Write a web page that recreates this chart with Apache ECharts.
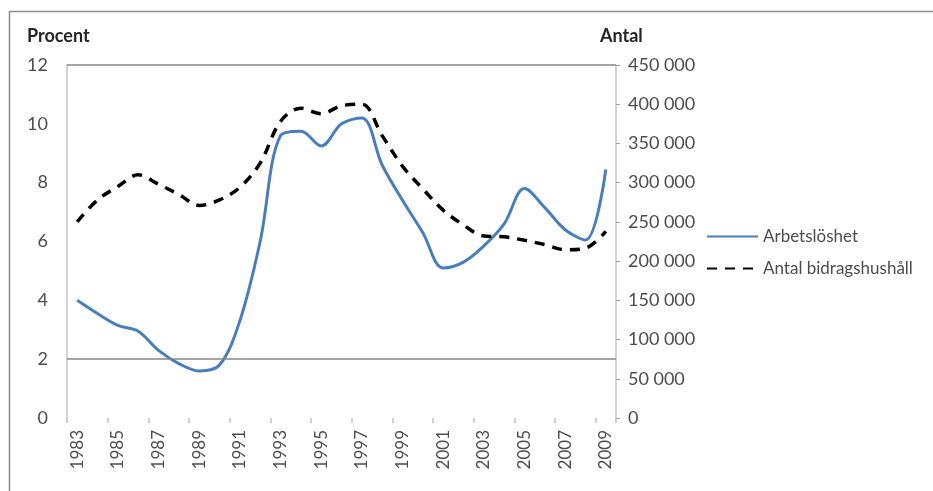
<!DOCTYPE html>
<html>
<head>
<meta charset="utf-8">
<script src="https://cdn.jsdelivr.net/npm/echarts@6/dist/echarts.min.js"></script>
<style>
  html, body { margin: 0; padding: 0; background: #fff; }
  #chart { width: 933px; height: 491px; }
</style>
</head>
<body>
<div id="chart"></div>
<script>
// år 1983-2009
var years = ["1983", "1984", "1985", "1986", "1987", "1988", "1989", "1990", "1991", "1992",
  "1993", "1994", "1995", "1996", "1997", "1998", "1999", "2000", "2001", "2002",
  "2003", "2004", "2005", "2006", "2007", "2008", "2009"];

// Arbetslöshet, procent (vänster axel)
var arbetsloshet = [4.0, 3.55, 3.15, 2.95, 2.3, 1.85, 1.6, 1.8, 3.3, 6.0,
  9.6, 9.75, 9.25, 10.0, 10.2, 8.6, 7.4, 6.3, 5.1, 5.3,
  5.85, 6.6, 7.8, 7.15, 6.4, 6.05, 8.45];

// Antal bidragshushåll (höger axel)
var bidragshushall = [250000, 278000, 295000, 310000, 298000, 285000, 271000, 278000, 294000, 325000,
  378000, 395000, 388000, 398000, 400000, 360000, 321000, 292000, 265000, 246000,
  232000, 231000, 226500, 221000, 214500, 216500, 238000];

// horisontella linjer i diagrammet (procent)
var refLines = [12, 2];

var fontFam = "Lato, 'Open Sans', sans-serif";
var textGray = "#4d4d4d";

function spaced(v) {
  return String(v).replace(/\B(?=(\d{3})+(?!\d))/g, " ");
}

var chart = echarts.init(document.getElementById("chart"));
chart.setOption({
  animation: false,
  textStyle: { fontFamily: fontFam },
  title: [
    {
      text: "Procent",
      left: 27,
      top: 27,
      padding: 0,
      textStyle: { fontSize: 18, fontWeight: "bold", color: "#262626", fontFamily: fontFam }
    },
    {
      text: "Antal",
      left: 600,
      top: 27,
      padding: 0,
      textStyle: { fontSize: 18, fontWeight: "bold", color: "#262626", fontFamily: fontFam }
    }
  ],
  graphic: [
    {
      type: "rect",
      silent: true,
      shape: { x: 9.5, y: 11.5, width: 1000, height: 600 },
      style: { fill: "none", stroke: "#8c8c8c", lineWidth: 1.5 }
    }
  ],
  legend: {
    orient: "vertical",
    left: 701,
    top: 223,
    itemWidth: 51,
    itemHeight: 14,
    itemGap: 15,
    itemStyle: { opacity: 0 },
    textStyle: { color: textGray, fontSize: 17, fontFamily: fontFam },
    data: ["Arbetslöshet", "Antal bidragshushåll"]
  },
  grid: {
    left: 67,
    right: 317,
    top: 65,
    bottom: 73
  },
  xAxis: {
    type: "category",
    data: years,
    boundaryGap: true,
    axisLine: { show: true, lineStyle: { opacity: 0 } },
    axisTick: {
      show: true,
      length: 5,
      lineStyle: { color: "#c0c0c0", width: 1.5 }
    },
    axisLabel: {
      interval: 1,
      rotate: 90,
      margin: 12,
      color: textGray,
      fontSize: 17,
      fontFamily: fontFam
    },
    splitLine: { show: false }
  },
  yAxis: [
    {
      type: "value",
      min: 0,
      max: 12,
      interval: 2,
      position: "left",
      axisLine: { show: true, lineStyle: { color: "#c4c4c4", width: 1.5 } },
      axisTick: { show: false },
      splitLine: { show: false },
      axisLabel: { margin: 19, color: textGray, fontSize: 18, fontFamily: fontFam }
    },
    {
      type: "value",
      min: 0,
      max: 450000,
      interval: 50000,
      position: "right",
      axisLine: { show: true, lineStyle: { color: "#c4c4c4", width: 1.5 } },
      axisTick: { show: true, length: 4, lineStyle: { color: "#a0a0a0" } },
      splitLine: { show: false },
      axisLabel: {
        margin: 12,
        color: textGray,
        fontSize: 18,
        fontFamily: fontFam,
        formatter: function (v) { return spaced(v); }
      }
    }
  ],
  series: [
    {
      name: "Arbetslöshet",
      type: "line",
      yAxisIndex: 0,
      data: arbetsloshet,
      smooth: 0.35,
      symbol: "none",
      z: 3,
      itemStyle: { color: "#4a7ebb" },
      lineStyle: { color: "#4a7ebb", width: 3 },
      markLine: {
        silent: true,
        symbol: ["none", "none"],
        label: { show: false },
        lineStyle: { color: "#868686", width: 1.5, type: "solid" },
        data: refLines.map(function (v) { return { yAxis: v }; })
      }
    },
    {
      name: "Antal bidragshushåll",
      type: "line",
      yAxisIndex: 1,
      data: bidragshushall,
      smooth: 0.35,
      symbol: "none",
      z: 4,
      itemStyle: { color: "#000000" },
      lineStyle: { color: "#000000", width: 3.5, type: [10, 8] }
    }
  ]
});
</script>
</body>
</html>
